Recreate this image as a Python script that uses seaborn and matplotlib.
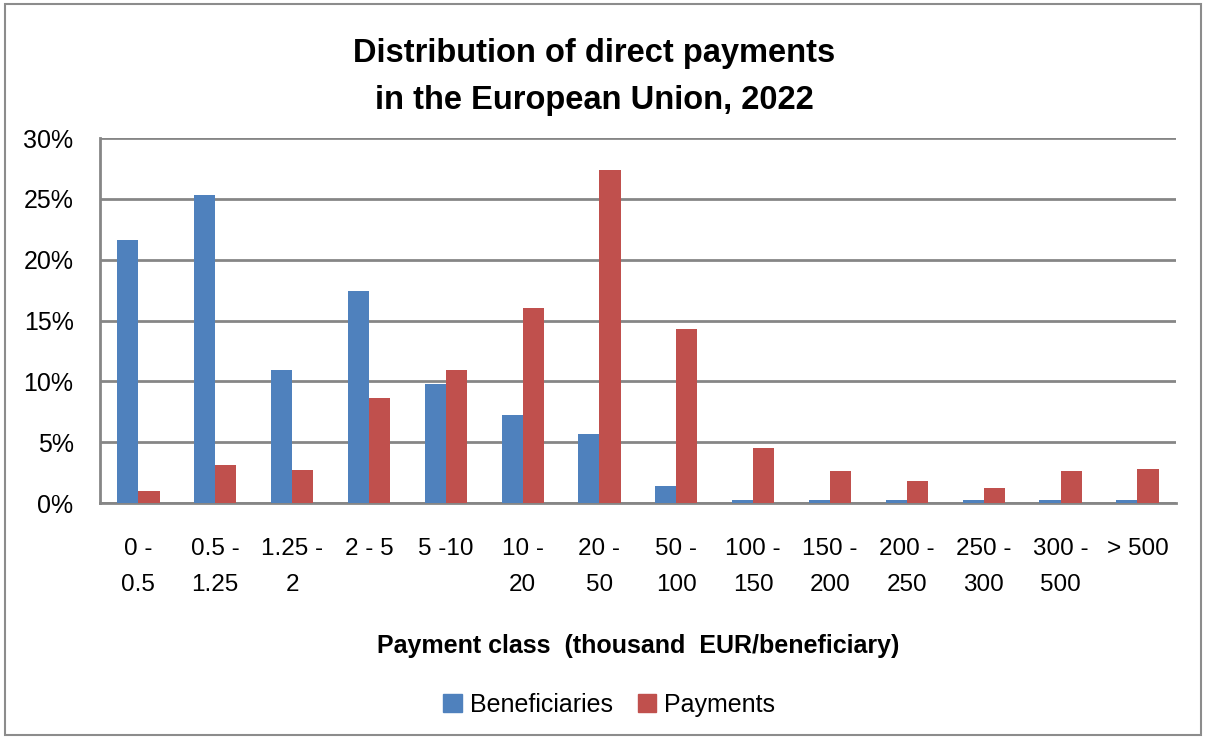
import numpy as np
import pandas as pd
import matplotlib
matplotlib.use('Agg')
import matplotlib.pyplot as plt
from matplotlib.patches import Rectangle
from matplotlib.ticker import FixedLocator, PercentFormatter
import seaborn as sns

sns.set_style('white')
plt.rcParams['font.family'] = ['Liberation Sans Narrow', 'Liberation Sans', 'DejaVu Sans']
plt.rcParams['text.color'] = 'black'
plt.rcParams['axes.labelcolor'] = 'black'
plt.rcParams['xtick.color'] = 'black'
plt.rcParams['ytick.color'] = 'black'

classes = ['0 -\n0.5', '0.5 -\n1.25', '1.25 -\n2', '2 - 5', '5 -10', '10 -\n20', '20 -\n50',
           '50 -\n100', '100 -\n150', '150 -\n200', '200 -\n250', '250 -\n300', '300 -\n500', '> 500']
beneficiaries = [21.6, 25.3, 10.9, 17.4, 9.8, 7.2, 5.7, 1.4, 0.25, 0.25, 0.25, 0.25, 0.25, 0.25]
payments = [1.0, 3.1, 2.7, 8.6, 10.9, 16.0, 27.4, 14.3, 4.5, 2.6, 1.8, 1.2, 2.6, 2.8]
series = ['Beneficiaries', 'Payments']
colors = ['#4F81BD', '#C0504D']

df = pd.DataFrame({
    'cls': classes * 2,
    'share': beneficiaries + payments,
    'series': [series[0]] * len(classes) + [series[1]] * len(classes),
})

fig = plt.figure(figsize=(12.06, 7.38), dpi=100)
ax = fig.add_axes([0.0829, 0.3184, 0.8921, 0.4946])

sns.barplot(data=df, x='cls', y='share', hue='series', palette=colors,
            width=0.55, ax=ax, legend=False, saturation=1, linewidth=0)

grid_c = '#868686'
ax.set_ylim(0, 30)
ax.set_xlim(-0.5, len(classes) - 0.5)
ax.set_yticks(np.arange(0, 31, 5))
ax.yaxis.set_major_formatter(PercentFormatter(decimals=0))
ax.yaxis.grid(True, color=grid_c, linewidth=2)
ax.set_axisbelow(True)
for s in ['top', 'right']:
    ax.spines[s].set_visible(False)
for s in ['left', 'bottom']:
    ax.spines[s].set_color(grid_c)
    ax.spines[s].set_linewidth(2)
    ax.spines[s].set_zorder(0.5)

ax.tick_params(axis='y', length=10, width=2, color=grid_c, labelsize=18, pad=9)
ax.tick_params(axis='x', which='major', length=0, labelsize=17.5, pad=25)
ax.xaxis.set_minor_locator(FixedLocator(np.arange(-0.5, len(classes), 1)))
ax.tick_params(axis='x', which='minor', length=9, width=2, color=grid_c)
for lbl in ax.get_xticklabels():
    lbl.set_linespacing(1.85)
    lbl.set_verticalalignment('top')

ax.set_ylabel('')
ax.set_xlabel('Payment class  (thousand  EUR/beneficiary)', fontsize=18,
              fontweight='bold', labelpad=27)

fig.text(0.493, 1 - 77 / 738, 'Distribution of direct payments\nin the European Union, 2022',
         ha='center', va='center', fontsize=23.5, fontweight='bold', linespacing=1.7)

handles = [Rectangle((0, 0), 1, 1, color=c) for c in colors]
fig.legend(handles, series, loc='center', bbox_to_anchor=(0.505, 1 - 705 / 738),
           ncol=2, frameon=False, fontsize=18, handlelength=0.75, handleheight=0.75,
           handletextpad=0.3, columnspacing=1.0)

fig.patches.append(Rectangle((0.004, 0.004), 0.992, 0.99, transform=fig.transFigure,
                             fill=False, edgecolor='#8c8c8c', linewidth=1.5))

fig.savefig('out.png', dpi=100)
